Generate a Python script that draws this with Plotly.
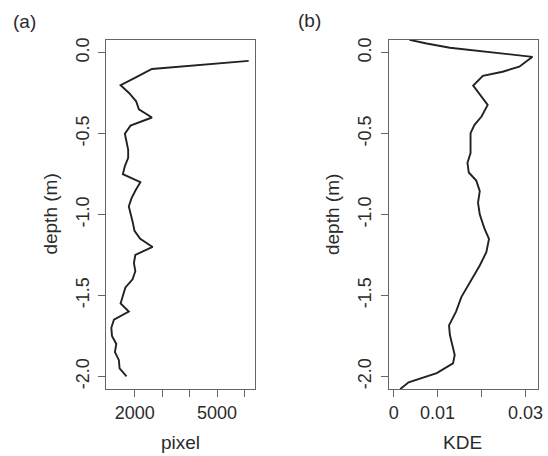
import plotly.graph_objects as go

depth_a = [-0.05, -0.10, -0.15, -0.20, -0.25, -0.30, -0.35, -0.40, -0.45, -0.50,
           -0.55, -0.60, -0.65, -0.70, -0.75, -0.80, -0.85, -0.90, -0.95, -1.00,
           -1.05, -1.10, -1.15, -1.20, -1.25, -1.30, -1.35, -1.40, -1.45, -1.50,
           -1.55, -1.60, -1.65, -1.70, -1.75, -1.80, -1.85, -1.90, -1.95, -2.00]
pixel = [6150, 2626, 2055, 1484, 1800, 2050, 2150, 2626, 1845, 1640,
         1700, 1760, 1760, 1640, 1567, 2205, 2030, 1880, 1783, 1870,
         1930, 1990, 2200, 2650, 2020, 1970, 2020, 1920, 1660, 1570,
         1484, 1783, 1242, 1146, 1170, 1327, 1278, 1422, 1447, 1700]

depth_b = [0.08, 0.057, 0.031, -0.025, -0.086, -0.117, -0.142, -0.203, -0.322, -0.394,
           -0.445, -0.497, -0.62, -0.68, -0.74, -0.79, -0.855, -0.927, -0.999, -1.089,
           -1.15, -1.232, -1.315, -1.386, -1.458, -1.51, -1.6, -1.685, -1.745, -1.807,
           -1.868, -1.92, -1.98, -2.037, -2.078]
kde = [0.0036, 0.0075, 0.0128, 0.0316, 0.0286, 0.0248, 0.0203, 0.0181, 0.0214, 0.0200,
       0.0184, 0.0175, 0.0175, 0.0168, 0.0171, 0.0188, 0.0196, 0.0192, 0.0196, 0.0207,
       0.0217, 0.0211, 0.0196, 0.0181, 0.0166, 0.0154, 0.0142, 0.0126, 0.0128, 0.0134,
       0.0139, 0.0135, 0.0098, 0.0034, 0.0015]

y_ticks = [0.0, -0.5, -1.0, -1.5, -2.0]
y_labels = ["0.0", "-0.5", "-1.0", "-1.5", "-2.0"]
xa_ticks = [2000, 3000, 4000, 5000, 6000]
xa_labels = ["2000", "", "", "5000", ""]
xb_ticks = [0, 0.01, 0.02, 0.03]
xb_labels = ["0", "0.01", "", "0.03"]

W, H = 548, 456
FONT = "Liberation Sans, Arial, sans-serif"
TXT = "#2b2b2b"
AX = "#666666"
FS = 18

fig = go.Figure()
fig.add_trace(go.Scatter(x=pixel, y=depth_a, mode="lines",
                         line=dict(color="#222222", width=1.9),
                         xaxis="x", yaxis="y", showlegend=False))
fig.add_trace(go.Scatter(x=kde, y=depth_b, mode="lines",
                         line=dict(color="#222222", width=1.9),
                         xaxis="x2", yaxis="y2", showlegend=False))

ydom = [1 - 389 / H, 1 - 38 / H]
common = dict(showline=True, mirror=True, linecolor=AX, linewidth=1.2,
              ticks="outside", ticklen=7, tickcolor=AX, tickwidth=1.2,
              showgrid=False, zeroline=False,
              tickfont=dict(family=FONT, size=FS, color=TXT))

fig.update_layout(
    width=W, height=H,
    margin=dict(l=0, r=0, t=0, b=0),
    paper_bgcolor="white", plot_bgcolor="white",
    xaxis=dict(domain=[107 / W, 257 / W], range=[953, 6368], anchor="y",
               tickvals=xa_ticks, ticktext=xa_labels, **common),
    yaxis=dict(domain=ydom, range=[-2.08, 0.08], anchor="x",
               tickvals=y_ticks, ticktext=y_labels, tickangle=-90,
               ticklabelstandoff=2, **common),
    xaxis2=dict(domain=[392.3 / W, 542.7 / W], range=[-0.00113, 0.0328], anchor="y2",
                tickvals=xb_ticks, ticktext=xb_labels, **common),
    yaxis2=dict(domain=ydom, range=[-2.08, 0.08], anchor="x2",
                tickvals=y_ticks, ticktext=y_labels, tickangle=-90,
                ticklabelstandoff=2, **common),
)

def ann(text, x, y, angle=0):
    fig.add_annotation(text=text, x=x / W, y=1 - y / H, xref="paper", yref="paper",
                       showarrow=False, textangle=angle, xanchor="center", yanchor="middle",
                       font=dict(family=FONT, size=19, color=TXT))

ann("(a)", 25, 20)
ann("(b)", 312, 19)
ann("depth (m)", 51, 213, -90)
ann("depth (m)", 335, 213, -90)
ann("pixel", 182, 442)
ann("KDE", 467, 442)

fig.write_html("out.html")
